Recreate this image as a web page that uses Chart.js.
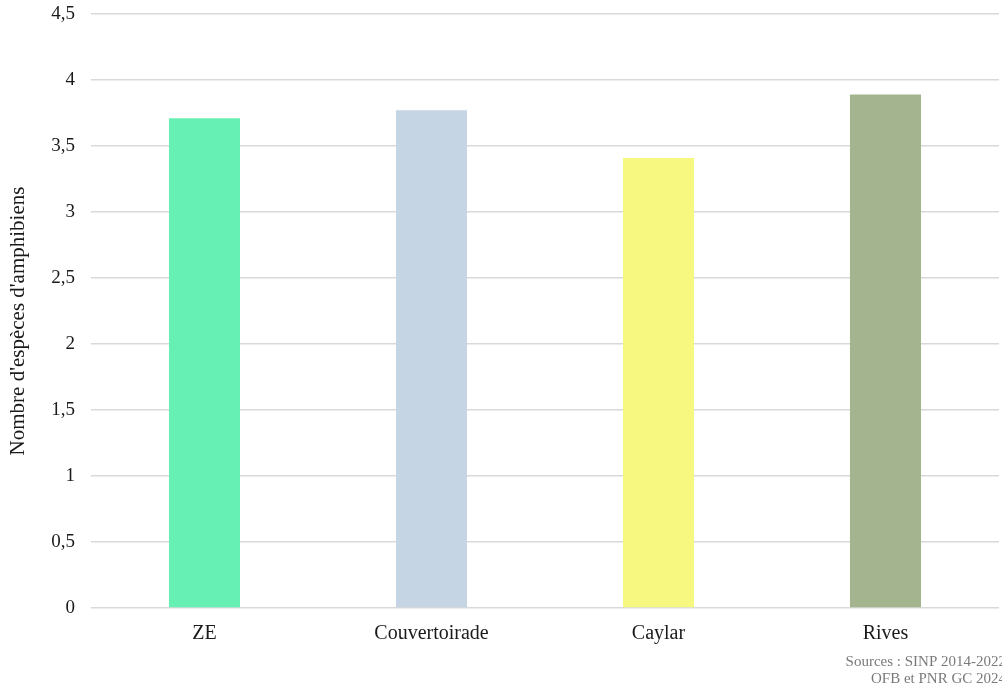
<!DOCTYPE html>
<html lang="fr">
<head>
<meta charset="utf-8">
<script src="https://cdn.jsdelivr.net/npm/chart.js@4"></script>
<style>
  html, body { margin: 0; padding: 0; background: #ffffff; }
  #wrap { width: 1002px; height: 690px; position: relative; overflow: hidden; }
</style>
</head>
<body>
<div id="wrap"><canvas id="c" width="1002" height="690"></canvas></div>
<script>
// Nombre moyen d'espèces d'amphibiens par secteur
const categories = ['ZE', 'Couvertoirade', 'Caylar', 'Rives'];
const especes = [3.71, 3.77, 3.41, 3.89];
const barColors = ['#66F0B4', '#C6D5E4', '#F7F880', '#A3B48F'];
const yTitle = "Nombre d'espèces d'amphibiens";
const sourceLines = ['Sources : SINP 2014-2022', 'OFB et PNR GC 2024'];

const serif = '"Liberation Serif", "DejaVu Serif", serif';

// Axis title (rotated) and source note drawn on the canvas
const annotations = {
  id: 'annotations',
  afterDraw(chart) {
    const ctx = chart.ctx;
    ctx.save();
    ctx.font = '21px ' + serif;
    ctx.fillStyle = '#1a1a1a';
    ctx.textAlign = 'center';
    ctx.textBaseline = 'middle';
    ctx.translate(18, 321);
    ctx.rotate(-Math.PI / 2);
    ctx.fillText(yTitle, 0, 0);
    ctx.restore();

    ctx.save();
    ctx.font = '15px ' + serif;
    ctx.fillStyle = '#7a7a7a';
    ctx.textAlign = 'right';
    ctx.textBaseline = 'middle';
    ctx.fillText(sourceLines[0], 1006, 662);
    ctx.fillText(sourceLines[1], 1006, 679);
    ctx.restore();
  }
};

new Chart(document.getElementById('c'), {
  type: 'bar',
  data: {
    labels: categories,
    datasets: [{
      data: especes,
      backgroundColor: barColors,
      borderWidth: 0,
      barPercentage: 0.313,
      categoryPercentage: 1.0
    }]
  },
  options: {
    responsive: false,
    animation: false,
    layout: { padding: { left: 0, right: 3, top: 14, bottom: 0 } },
    plugins: {
      legend: { display: false },
      tooltip: { enabled: false }
    },
    scales: {
      x: {
        grid: { display: false, drawTicks: false },
        border: { display: false },
        ticks: {
          color: '#1a1a1a',
          font: { family: serif, size: 20 },
          padding: 14
        },
        afterFit(scale) {
          scale.height = 82;
          scale.paddingLeft = 0;
          scale.paddingRight = 0;
        }
      },
      y: {
        min: 0,
        max: 4.5,
        ticks: {
          stepSize: 0.5,
          color: '#1a1a1a',
          font: { family: serif, size: 19 },
          padding: 16,
          callback: (v) => String(v).replace('.', ',')
        },
        grid: { color: '#d9d9d9', lineWidth: 1.5, drawTicks: false },
        border: { display: false },
        title: { display: false },
        afterFit(scale) {
          scale.width = 91;
          scale.paddingTop = 0;
          scale.paddingBottom = 0;
        }
      }
    }
  },
  plugins: [annotations]
});
</script>
</body>
</html>
